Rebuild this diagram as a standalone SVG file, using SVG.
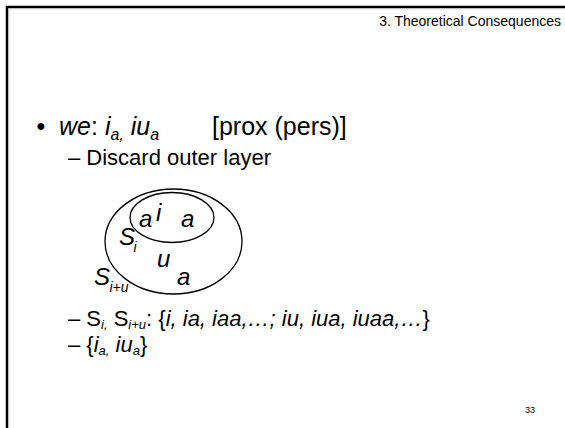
<svg xmlns="http://www.w3.org/2000/svg" width="565" height="428" viewBox="0 0 565 428">
<style>
text{font-family:"Liberation Sans",Arial,sans-serif;fill:#000}
.it{font-style:italic}
.l1{font-size:25px}
.l2{font-size:22px}
.s1{font-size:16px}
.s2{font-size:14px}
.s3{font-size:13px}
.dia{font-size:24px;font-style:italic}
.shape{fill:none;stroke:#000;stroke-width:1.3}
</style>
<rect width="565" height="428" fill="#fff"/>
<g id="border">
<path d="M7 428 V7 H565" fill="none" stroke="#000" stroke-width="2.5"/>
<path d="M8.8 428 V8.8 H565" fill="none" stroke="#bbb" stroke-width="0.8"/>
</g>
<g id="header"><text x="561" y="26" font-size="14" text-anchor="end">3. Theoretical Consequences</text></g>
<g id="bullet">
<text x="36.5" y="135" class="l1">•</text>
<text x="59" y="135" class="l1"><tspan class="it">we</tspan>: <tspan class="it">i</tspan><tspan class="s1 it" dy="5">a,</tspan><tspan dy="-5"> </tspan><tspan class="it">iu</tspan><tspan class="s1 it" dy="5">a</tspan></text>
<text x="212" y="135" class="l1">[prox (pers)]</text>
<text x="68" y="165" class="l2">– Discard outer layer</text>
</g>
<g id="diagram">
<ellipse class="shape" cx="173.5" cy="241.5" rx="68.5" ry="52.5"/>
<ellipse class="shape" cx="172" cy="217.5" rx="42" ry="25"/>
<text x="139" y="227" class="dia">a</text>
<text x="156" y="221" class="dia">i</text>
<text x="181" y="227" class="dia">a</text>
<text x="119" y="245" class="dia">S</text>
<text x="133.5" y="252" class="s2 it">i</text>
<text x="157" y="267" class="dia">u</text>
<text x="177" y="285" class="dia">a</text>
<text x="94" y="285" class="dia">S</text>
<text x="109.5" y="292" class="s2 it">i+u</text>
</g>
<g id="lines">
<text x="68" y="326" class="l2">– S<tspan class="s3 it" dy="3">i,</tspan><tspan dy="-3"> S</tspan><tspan class="s3 it" dy="3">i+u</tspan><tspan dy="-3">: {</tspan><tspan class="it">i, ia, iaa,…; iu, iua, iuaa,…</tspan>}</text>
<text x="68" y="352" class="l2">– {<tspan class="it">i</tspan><tspan class="s3 it" dy="3">a,</tspan><tspan dy="-3" class="it"> iu</tspan><tspan class="s3 it" dy="3">a</tspan><tspan dy="-3">}</tspan></text>
</g>
<g id="pagenum"><text x="530" y="413" font-size="9" text-anchor="middle" fill="#333">33</text></g>
</svg>
